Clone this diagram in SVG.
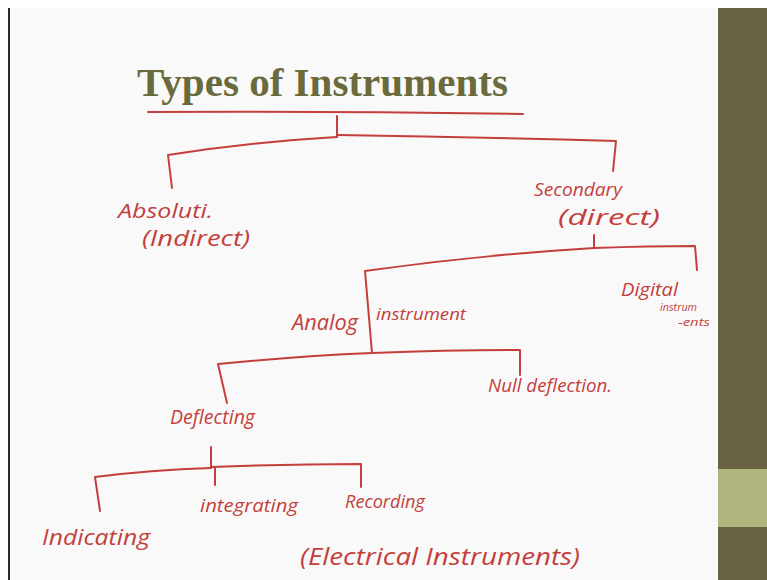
<svg xmlns="http://www.w3.org/2000/svg" width="767" height="580" viewBox="0 0 767 580">
<style>
.ink{fill:none;stroke:#c43f3c;stroke-width:2;stroke-linecap:round;stroke-linejoin:round}
.hw{fill:#c43f3c;font-family:"Open Sans","DejaVu Sans",sans-serif;font-style:italic}
.title{fill:#6b6a3c;font-family:"Liberation Serif","DejaVu Serif",serif;font-weight:bold}
</style>
<rect x="0" y="0" width="767" height="580" fill="#ffffff"/>
<rect x="9" y="8" width="710" height="572" fill="#f9f9f9"/>
<rect x="8" y="8" width="2" height="572" fill="#2a2a2a"/>
<rect x="718" y="8" width="49" height="572" fill="#686443"/>
<rect x="718" y="469" width="49" height="58" fill="#b0b47d"/>
<g id="title"><text class="title" x="137" y="96" font-size="39" textLength="371" lengthAdjust="spacingAndGlyphs">Types of Instruments</text></g>
<g id="connectors">
<path class="ink" d="M148 112 Q330 111 523 114"/>
<path class="ink" d="M337 116 L337 137"/>
<path class="ink" d="M337 137 Q250 142 168 155 L172 188"/>
<path class="ink" d="M337 135 Q480 137 616 141 L613 171"/>
<path class="ink" d="M594 235 L594 248"/>
<path class="ink" d="M594 248 Q480 255 365 271 L372 353"/>
<path class="ink" d="M594 248 Q650 246 695 246 L697 270"/>
<path class="ink" d="M372 353 Q300 356 218 364 L227 403"/>
<path class="ink" d="M372 353 Q450 350 520 350 L520 375"/>
<path class="ink" d="M211 447 L211 468"/>
<path class="ink" d="M211 468 Q150 470 95 477 L100 511"/>
<path class="ink" d="M215 468 L215 485"/>
<path class="ink" d="M211 467 Q290 464 361 464 L361 487"/>
</g>
<g id="absolute"><text class="hw" x="118" y="218" font-size="20" textLength="95" lengthAdjust="spacingAndGlyphs">Absoluti.</text>
<text class="hw" x="142" y="246" font-size="21" textLength="108" lengthAdjust="spacingAndGlyphs">(Indirect)</text></g>
<g id="secondary"><text class="hw" x="534" y="196" font-size="19" textLength="88" lengthAdjust="spacingAndGlyphs">Secondary</text>
<text class="hw" x="558" y="225" font-size="21" textLength="102" lengthAdjust="spacingAndGlyphs">(direct)</text></g>
<g id="analog"><text class="hw" x="292" y="330" font-size="21" textLength="66" lengthAdjust="spacingAndGlyphs">Analog</text>
<text class="hw" x="376" y="320" font-size="16" textLength="90" lengthAdjust="spacingAndGlyphs">instrument</text></g>
<g id="digital"><text class="hw" x="621" y="296" font-size="19" textLength="57" lengthAdjust="spacingAndGlyphs">Digital</text>
<text class="hw" x="660" y="311" font-size="11" textLength="37" lengthAdjust="spacingAndGlyphs">instrum</text>
<text class="hw" x="678" y="326" font-size="11" textLength="32" lengthAdjust="spacingAndGlyphs">-ents</text></g>
<g id="null"><text class="hw" x="488" y="392" font-size="18" textLength="124" lengthAdjust="spacingAndGlyphs">Null deflection.</text></g>
<g id="deflecting"><text class="hw" x="170" y="424" font-size="20" textLength="85" lengthAdjust="spacingAndGlyphs">Deflecting</text></g>
<g id="indicating"><text class="hw" x="42" y="545" font-size="21" textLength="108" lengthAdjust="spacingAndGlyphs">Indicating</text></g>
<g id="integrating"><text class="hw" x="200" y="512" font-size="19" textLength="98" lengthAdjust="spacingAndGlyphs">integrating</text></g>
<g id="recording"><text class="hw" x="345" y="508" font-size="18" textLength="80" lengthAdjust="spacingAndGlyphs">Recording</text></g>
<g id="electrical"><text class="hw" x="300" y="565" font-size="24" textLength="280" lengthAdjust="spacingAndGlyphs">(Electrical Instruments)</text></g>
</svg>
